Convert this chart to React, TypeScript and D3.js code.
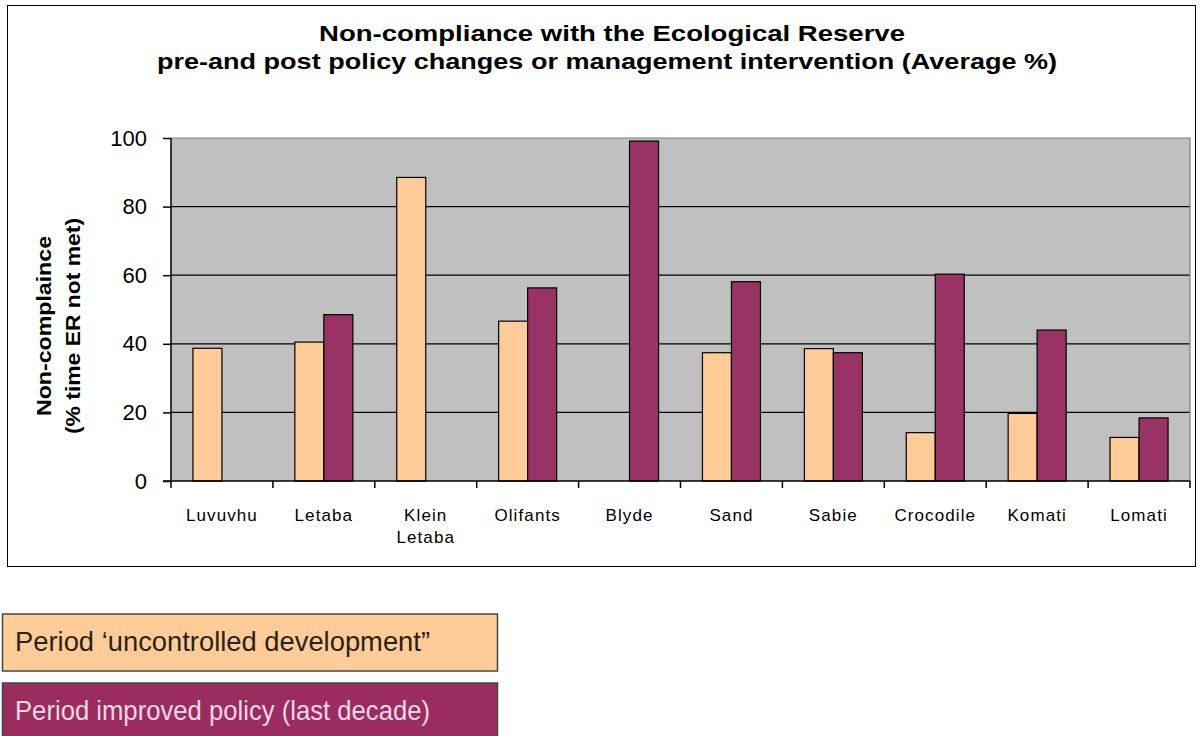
import * as d3 from "d3";
import { useEffect, useRef } from "react";

const rivers = ["Luvuvhu", "Letaba", "Klein Letaba", "Olifants", "Blyde", "Sand", "Sabie", "Crocodile", "Komati", "Lomati"];
const uncontrolled = [38.7, 40.5, 88.5, 46.6, 0, 37.4, 38.6, 14.1, 19.7, 12.7];
const improved = [0, 48.5, 0, 56.3, 99.1, 58.1, 37.4, 60.3, 44.0, 18.4];
const yTicks = [0, 20, 40, 60, 80, 100];
const seriesNames = ["Period \u2018uncontrolled development\u201D", "Period improved policy (last decade)"];

const W = 1204;
const H = 736;
const plot = { left: 171, right: 1190, top: 138, bottom: 481 };
const font = "Liberation Sans, Arial, sans-serif";

const App = () => {
  const ref = useRef<SVGSVGElement>(null);

  useEffect(() => {
    const svg = d3.select(ref.current);
    svg.selectAll("*").remove();

    // outer chart frame
    svg.append("rect")
      .attr("x", 7.5).attr("y", 5.5).attr("width", 1188).attr("height", 561)
      .attr("fill", "white").attr("stroke", "black").attr("stroke-width", 1);

    const title = svg.append("text")
      .attr("text-anchor", "middle")
      .attr("font-family", font)
      .attr("font-weight", "bold").attr("font-size", 22);
    title.append("tspan").attr("x", 612).attr("y", 41)
      .attr("textLength", 586).attr("lengthAdjust", "spacingAndGlyphs")
      .text("Non-compliance with the Ecological Reserve");
    title.append("tspan").attr("x", 607).attr("y", 69)
      .attr("textLength", 900).attr("lengthAdjust", "spacingAndGlyphs")
      .text("pre-and post policy changes or management intervention (Average %)");

    const x0 = d3.scaleBand().domain(rivers).range([plot.left, plot.right]).paddingInner(0).paddingOuter(0);
    const groupW = 58;
    const x1 = d3.scaleBand().domain(["a", "b"]).range([0, groupW]);
    const y = d3.scaleLinear().domain([0, 100]).range([plot.bottom, plot.top]);

    svg.append("rect")
      .attr("x", plot.left).attr("y", plot.top)
      .attr("width", plot.right - plot.left).attr("height", plot.bottom - plot.top)
      .attr("fill", "#C0C0C0");

    // gridlines
    svg.append("g").selectAll("line").data(yTicks.filter((t) => t > 0 && t < 100)).join("line")
      .attr("x1", plot.left).attr("x2", plot.right)
      .attr("y1", (d) => y(d)).attr("y2", (d) => y(d))
      .attr("stroke", "black").attr("stroke-width", 1.2);
    svg.append("path")
      .attr("d", `M${plot.left},${plot.top}H${plot.right}V${plot.bottom}`)
      .attr("fill", "none").attr("stroke", "#808080").attr("stroke-width", 1.2);

    const groups = svg.append("g").selectAll("g").data(rivers).join("g")
      .attr("transform", (d) => `translate(${(x0(d) as number) + (x0.bandwidth() - groupW) / 2},0)`);

    const drawBars = (vals: number[], key: string, fill: string) => {
      groups.filter((_, i) => vals[i] > 0).append("rect")
        .attr("x", x1(key) as number)
        .attr("width", x1.bandwidth())
        .attr("y", (d) => y(vals[rivers.indexOf(d as string)]))
        .attr("height", (d) => plot.bottom - y(vals[rivers.indexOf(d as string)]))
        .attr("fill", fill).attr("stroke", "black").attr("stroke-width", 1.2);
    };
    drawBars(uncontrolled, "a", "#FFCC99");
    drawBars(improved, "b", "#993366");

    // y axis
    const yAxis = svg.append("g").attr("transform", `translate(${plot.left},0)`)
      .call(d3.axisLeft(y).tickValues(yTicks).tickSize(8).tickPadding(16));
    yAxis.select(".domain").attr("stroke-width", 1.5).attr("d", `M0,${plot.top}V${plot.bottom}`);
    yAxis.selectAll("line").attr("stroke-width", 1.5);
    yAxis.selectAll("text")
      .attr("font-family", font).attr("font-size", 22).attr("fill", "black");

    // x axis
    const xAxis = svg.append("g").attr("transform", `translate(0,${plot.bottom})`);
    xAxis.append("line").attr("x1", plot.left - 8).attr("x2", plot.right)
      .attr("stroke", "black").attr("stroke-width", 1.5);
    xAxis.selectAll("line.tick").data(d3.range(rivers.length + 1)).join("line")
      .attr("class", "tick")
      .attr("x1", (i) => plot.left + i * x0.step()).attr("x2", (i) => plot.left + i * x0.step())
      .attr("y1", 0).attr("y2", 7).attr("stroke", "black").attr("stroke-width", 1.5);
    const labels = xAxis.selectAll("text").data(rivers).join("text")
      .attr("text-anchor", "middle")
      .attr("font-family", font).attr("font-size", 17).attr("letter-spacing", 1.1);
    labels.each(function (d) {
      const cx = (x0(d) as number) + x0.bandwidth() / 2;
      d.split(" ").forEach((w, k) => {
        d3.select(this).append("tspan").attr("x", cx).attr("y", 40 + k * 22).text(w);
      });
    });

    // y axis title
    const yt = svg.append("text")
      .attr("transform", "translate(60,326) rotate(-90)")
      .attr("text-anchor", "middle")
      .attr("font-family", font)
      .attr("font-weight", "bold").attr("font-size", 21);
    yt.append("tspan").attr("x", 0).attr("y", -9)
      .attr("textLength", 180).attr("lengthAdjust", "spacingAndGlyphs").text("Non-complaince");
    yt.append("tspan").attr("x", 0).attr("y", 20)
      .attr("textLength", 216).attr("lengthAdjust", "spacingAndGlyphs").text("(% time ER not met)");

    // legend boxes
    const legendFill = ["#FFCC99", "#9B2C60"];
    const legendText = ["#2a2418", "#F2D6E4"];
    const legendY = [614, 683];
    seriesNames.forEach((name, i) => {
      svg.append("rect")
        .attr("x", 2.5).attr("y", legendY[i]).attr("width", 495).attr("height", 57)
        .attr("fill", legendFill[i]).attr("stroke", "#444").attr("stroke-width", 1.5);
      svg.append("text")
        .attr("x", 15).attr("y", legendY[i] + 37)
        .attr("font-family", "Liberation Sans Narrow, Arial Narrow, sans-serif")
        .attr("font-size", 28).attr("fill", legendText[i])
        .attr("textLength", 415).attr("lengthAdjust", "spacingAndGlyphs")
        .text(name);
    });
  }, []);

  return (
    <svg ref={ref} width={W} height={H}
      style={{ position: "absolute", left: 0, top: 0, background: "white" }} />
  );
};

export default App;
